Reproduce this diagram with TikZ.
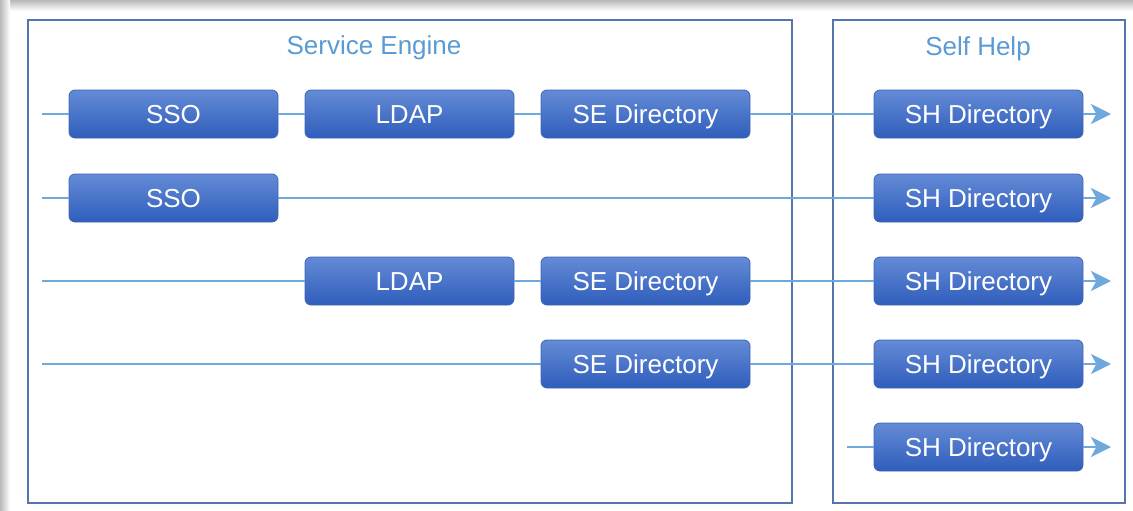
\documentclass[tikz,border=0pt]{standalone}
\usepackage{fontspec}
\setmainfont{Liberation Sans}
\usetikzlibrary{arrows.meta}
\definecolor{frameblue}{HTML}{5874AE}
\definecolor{lineblue}{HTML}{6FA8DC}
\definecolor{titleblue}{HTML}{5B9BD5}
\definecolor{boxtop}{HTML}{648BD6}
\definecolor{boxbot}{HTML}{2F5DBB}
\definecolor{boxedge}{HTML}{3F66B5}
\begin{document}
\begin{tikzpicture}[x=0.75pt,y=-0.75pt,
  stage/.style={draw=frameblue, line width=1.9pt},
  proc/.style={rounded corners=4.5pt, draw=boxedge, line width=0.6pt,
    top color=boxtop, bottom color=boxbot,
    minimum width=156.75pt, minimum height=36pt, inner sep=0pt,
    text height=14pt, text depth=0pt,
    text=white, font=\fontsize{19.5}{23}\selectfont},
  flow/.style={draw=lineblue, line width=2.2pt},
  flowend/.style={flow, -{Stealth[length=15pt, width=15pt, inset=4pt]}},
  stagetitle/.style={text=titleblue, font=\fontsize{19.5}{23}\selectfont}]
% page and soft edge shadow
\fill[white] (0,0) rectangle (1133,511);
\useasboundingbox (0,0) rectangle (1133,511);
\shade[top color=black!28, bottom color=white] (0,0) rectangle (1133,11);
\shade[left color=black!28, right color=white] (0,0) rectangle (10,511);

% the two stages
\draw[stage] (28,20) rectangle (792,503);
\draw[stage] (833,20) rectangle (1125,503);
\node[stagetitle] (setitle) at (374,48) {Service Engine};
\node[stagetitle] (shtitle) at (978,49) {Self Help};

% boxes
\node[proc] (sso1) at (173.5,114) {SSO};
\node[proc] (ldap1) at (409.5,114) {LDAP};
\node[proc] (sed1) at (645.5,114) {SE Directory};
\node[proc] (shd1) at (978.5,114) {SH Directory};
\node[proc] (sso2) at (173.5,198) {SSO};
\node[proc] (shd2) at (978.5,198) {SH Directory};
\node[proc] (ldap3) at (409.5,281) {LDAP};
\node[proc] (sed3) at (645.5,281) {SE Directory};
\node[proc] (shd3) at (978.5,281) {SH Directory};
\node[proc] (sed4) at (645.5,364) {SE Directory};
\node[proc] (shd4) at (978.5,364) {SH Directory};
\node[proc] (shd5) at (978.5,447) {SH Directory};

% free ends of the flows
\coordinate (s1) at (42,114);
\coordinate (s2) at (42,198);
\coordinate (s3) at (42,281);
\coordinate (s4) at (42,364);
\coordinate (s5) at (847,447);
\coordinate (e1) at (1111,114);
\coordinate (e2) at (1111,198);
\coordinate (e3) at (1111,281);
\coordinate (e4) at (1111,364);
\coordinate (e5) at (1111,447);

% flows
\draw[flow] (s1) -- (sso1.west);
\draw[flow] (sso1.east) -- (ldap1.west);
\draw[flow] (ldap1.east) -- (sed1.west);
\draw[flow] (sed1.east) -- (shd1.west);
\draw[flowend] (shd1.east) -- (e1);

\draw[flow] (s2) -- (sso2.west);
\draw[flow] (sso2.east) -- (shd2.west);
\draw[flowend] (shd2.east) -- (e2);

\draw[flow] (s3) -- (ldap3.west);
\draw[flow] (ldap3.east) -- (sed3.west);
\draw[flow] (sed3.east) -- (shd3.west);
\draw[flowend] (shd3.east) -- (e3);

\draw[flow] (s4) -- (sed4.west);
\draw[flow] (sed4.east) -- (shd4.west);
\draw[flowend] (shd4.east) -- (e4);

\draw[flow] (s5) -- (shd5.west);
\draw[flowend] (shd5.east) -- (e5);
\end{tikzpicture}
\end{document}
